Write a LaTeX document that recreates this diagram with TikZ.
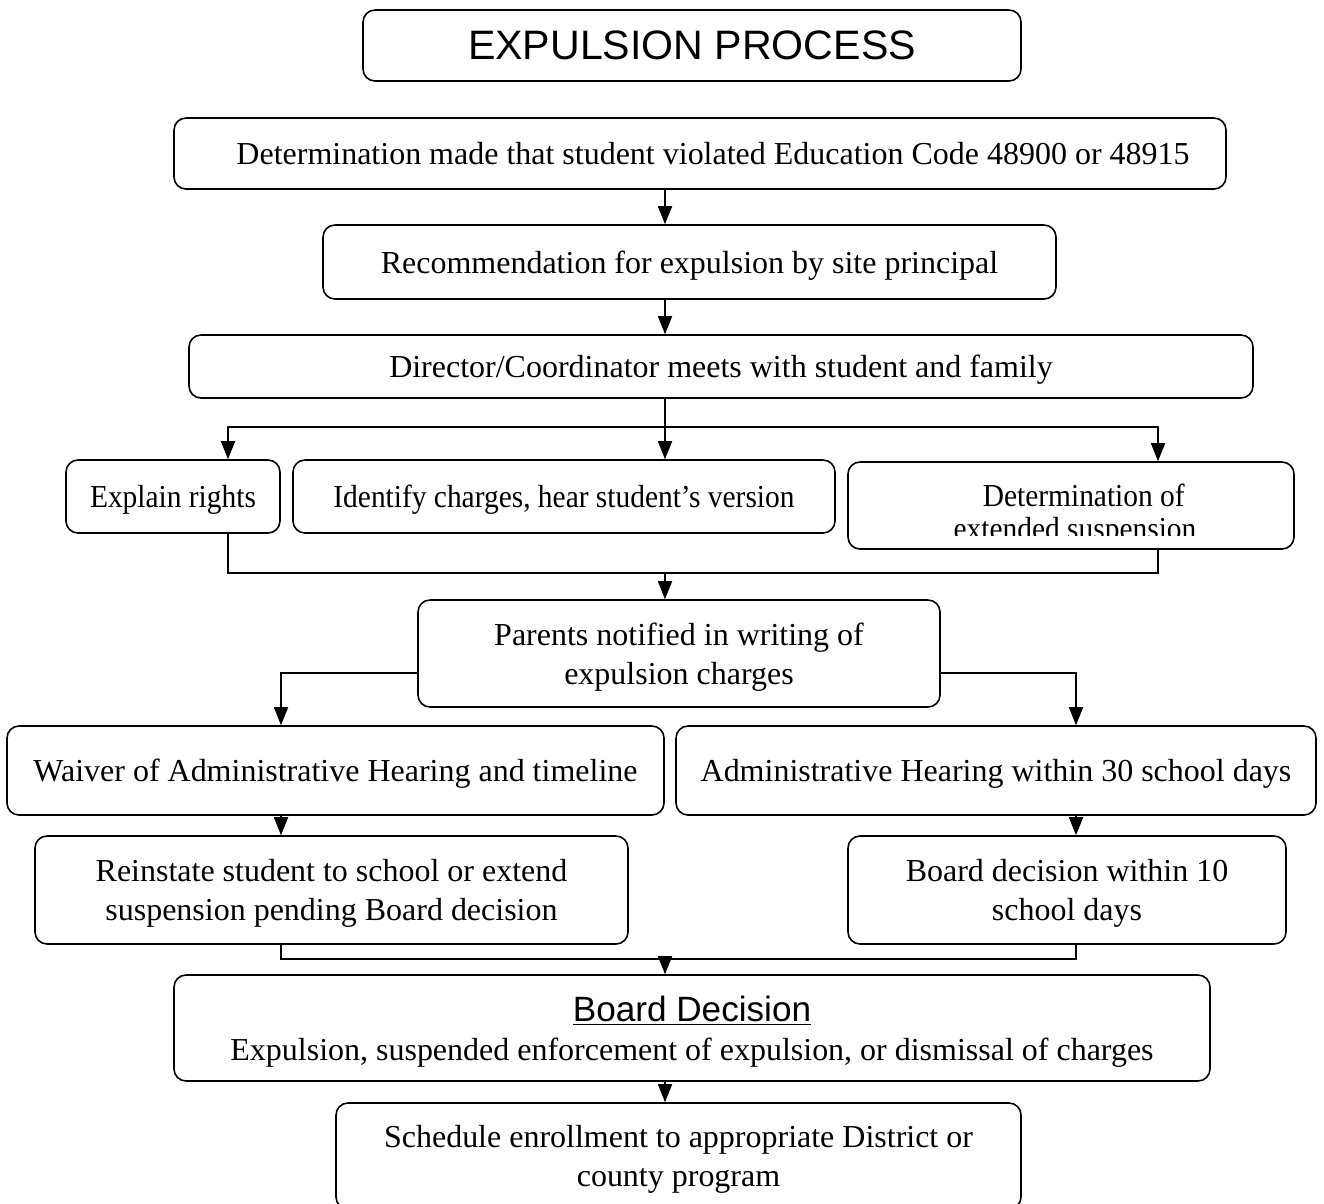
\documentclass[tikz,border=0pt]{standalone}
\usepackage{fontspec}
\setmainfont{Liberation Serif}
\newfontfamily\headfont{Liberation Sans}
\usetikzlibrary{arrows.meta}
\newcommand{\bodysize}[0]{\fontsize{18.2}{22}\selectfont}
\newcommand{\headsize}[0]{\fontsize{23.4}{26}\selectfont}
\newcommand{\narrow}[1]{\scalebox{0.92}[1]{#1}}

\begin{document}
\begin{tikzpicture}[cap=round]
\tikzstyle{heading} = [rectangle, rounded corners=0.24cm, minimum width=13.16cm, minimum height=1.42cm, inner sep=0pt, draw=black, line width=0.9pt, font=\headfont\headsize]
\tikzstyle{block} = [rectangle, rounded corners=0.24cm, inner sep=0pt, align=center, text depth=0pt, draw=black, line width=0.9pt, font=\bodysize]
\tikzstyle{arrow} = [line width=0.9pt,-{Triangle[length=0.36cm,width=0.28cm]}]
\tikzstyle{line} = [line width=0.9pt]

\useasboundingbox (0,0) rectangle (26.48,-24.06);

\node (title) [heading] at (13.84,-0.91) {EXPULSION PROCESS};

\node (violation) [block, below of=title, xshift=0.16cm, yshift=-1.16cm, minimum width=21.04cm, minimum height=1.42cm] {\hspace*{0.52cm}Determination made that student violated Education Code 48900 or 48915};
\node (recommend) [block, below of=violation, xshift=-0.21cm, yshift=-1.17cm, minimum width=14.66cm, minimum height=1.48cm] {Recommendation for expulsion by site principal};
\node (meeting) [block, below of=recommend, xshift=0.63cm, yshift=-1.09cm, minimum width=21.28cm, minimum height=1.26cm] {Director/Coordinator meets with student and family};

\node (identify) [block, below of=meeting, xshift=-3.14cm, yshift=-1.6cm, minimum width=10.84cm, minimum height=1.46cm] {\narrow{Identify charges, hear student’s version}};
\node (explain) [block, left of=identify, xshift=-6.82cm, minimum width=4.28cm, minimum height=1.46cm] {\narrow{Explain rights}};
\node (extended) [block, right of=identify, xshift=9.14cm, yshift=-0.18cm, minimum width=8.92cm, minimum height=1.74cm] {};
\coordinate (cutline) at (0,-10.70);
\begin{scope}
\clip (extended.north west) rectangle (extended.east |- cutline);
\node (extendedtext) [below of=extended, xshift=0.08cm, yshift=0.8cm, font=\bodysize, inner sep=0pt] {\narrow{\begin{tabular}{@{}c@{}}\hspace*{0.38cm}Determination of\\[-3pt]extended suspension\end{tabular}}};
\end{scope}

\node (parents) [block, below of=identify, xshift=2.3cm, yshift=-2.14cm, minimum width=10.44cm, minimum height=2.14cm] {Parents notified in writing of\\expulsion charges};

\node (waiver) [block, below of=parents, xshift=-6.87cm, yshift=-1.34cm, minimum width=13.14cm, minimum height=1.78cm] {Waiver of Administrative Hearing and timeline};
\node (hearing) [block, right of=waiver, xshift=12.21cm, minimum width=12.8cm, minimum height=1.78cm] {Administrative Hearing within 30 school days};

\node (reinstate) [block, below of=waiver, xshift=-0.08cm, yshift=-1.39cm, minimum width=11.86cm, minimum height=2.16cm] {Reinstate student to school or extend\\suspension pending Board decision};
\node (boardten) [block, below of=hearing, xshift=1.42cm, yshift=-1.39cm, minimum width=8.76cm, minimum height=2.16cm] {Board decision within 10\\school days};

\node (decision) [block, below of=reinstate, xshift=7.21cm, yshift=-1.76cm, minimum width=20.72cm, minimum height=2.12cm] {{\headfont\fontsize{20}{22}\selectfont\underline{Board Decision}}\\Expulsion, suspended enforcement of expulsion, or dismissal of charges};
\node (enroll) [block, below of=decision, xshift=-0.27cm, yshift=-1.56cm, minimum width=13.7cm, minimum height=2.12cm] {Schedule enrollment to appropriate District or\\county program};

% bends of the connectors
\coordinate (spine) at (13.3,0);
\coordinate (splitL) at (4.56,-8.54);
\coordinate (splitR) at (23.16,-8.54);
\coordinate (joinL) at (4.56,-11.46);
\coordinate (joinR) at (23.16,-11.46);
\coordinate (forkL) at (5.62,-13.46);
\coordinate (forkR) at (21.52,-13.46);
\coordinate (mergeL) at (5.62,-19.18);
\coordinate (mergeR) at (21.52,-19.18);

\draw [arrow] (violation.south -| spine) -- (recommend.north -| spine);
\draw [arrow] (recommend.south -| spine) -- (meeting.north -| spine);
\draw [arrow] (meeting.south -| spine) -- (identify.north -| spine);
\draw [line] (splitL) -- (splitR);
\draw [arrow] (splitL) -- (splitL |- explain.north);
\draw [arrow] (splitR) -- (splitR |- extended.north);

\draw [line] (explain.south -| joinL) -- (joinL) -- (joinR) -- (extended.south -| joinR);
\draw [arrow] (joinL -| spine) -- (parents.north -| spine);

\draw [arrow] (forkL -| parents.west) -- (forkL) -- (forkL |- waiver.north);
\draw [arrow] (forkR -| parents.east) -- (forkR) -- (forkR |- hearing.north);
\draw [arrow] (forkL |- waiver.south) -- (forkL |- reinstate.north);
\draw [arrow] (forkR |- hearing.south) -- (forkR |- boardten.north);

\draw [line] (reinstate.south -| mergeL) -- (mergeL) -- (mergeR) -- (boardten.south -| mergeR);
\draw [arrow] (mergeL -| spine) -- (decision.north -| spine);
\draw [arrow] (decision.south -| spine) -- (enroll.north -| spine);

\end{tikzpicture}
\end{document}
